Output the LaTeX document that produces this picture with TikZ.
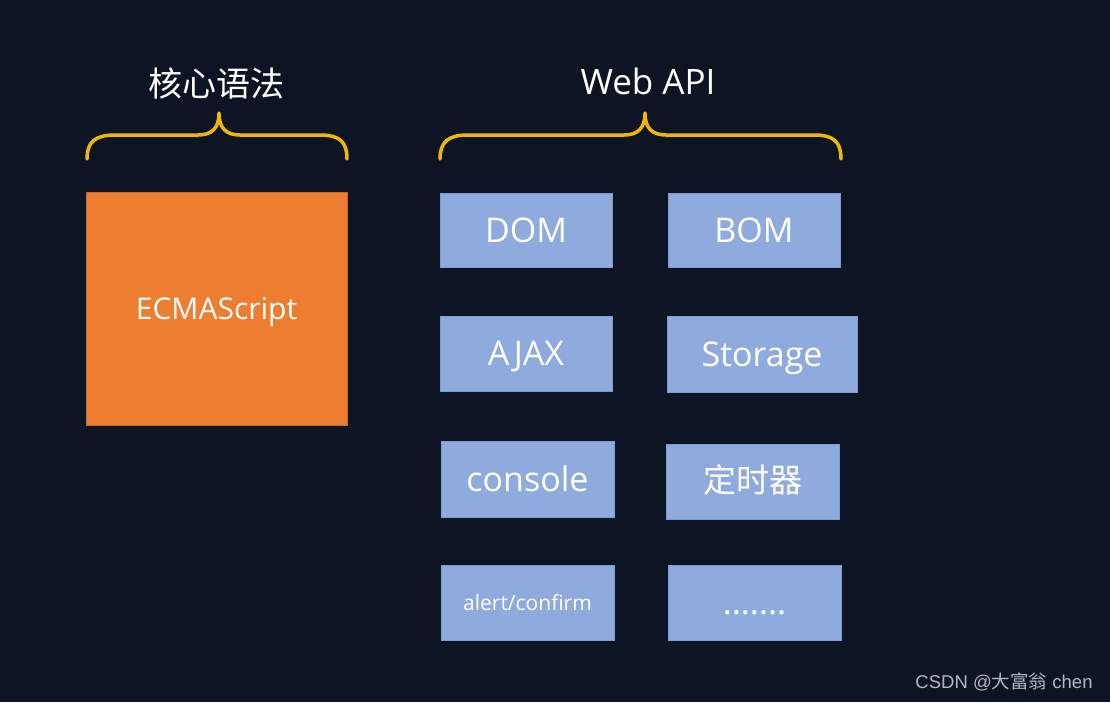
\documentclass[tikz,border=0pt]{standalone}
\usepackage{fontspec}
\setmainfont{Open Sans}
\newfontfamily\cjk{Noto Sans CJK SC}
\newfontfamily\wmfont{Liberation Sans}
\definecolor{bg}{HTML}{0D1525}
\definecolor{orangebox}{HTML}{ED7D31}
\definecolor{bluebox}{HTML}{8FAADC}
\definecolor{blueedge}{HTML}{7F9AD0}
\definecolor{gold}{HTML}{F2B705}
\definecolor{wm}{HTML}{B4B8BE}
\begin{document}
\begin{tikzpicture}[x=1pt,y=-1pt,
  apibox/.style={fill=bluebox,draw=blueedge,line width=0.8pt,inner sep=0pt,text=white,font=\fontsize{34}{36}\selectfont,text height=24.3pt,text depth=0pt},
  corebox/.style={fill=orangebox,draw=orangebox!85!black,line width=0.8pt,inner sep=0pt,text=white,font=\fontsize{30}{32}\selectfont,text height=21.4pt,text depth=0pt},
  bracepath/.style={draw=gold,line width=3.5pt,line cap=round,line join=round},
  title/.style={text=white,inner sep=0pt}]
\fill[bg] (0,0) rectangle (1110,702);
\useasboundingbox (0,0) rectangle (1110,702);
% titles
\node[title,font=\cjk\fontsize{34}{36}\selectfont] (tcore) at (216,84) {核心语法};
\node[title,font=\fontsize{35}{37}\selectfont] (tweb) at (648,81) {Web API};
% braces
\draw[bracepath] (87,159) .. controls (87,142) and (95,135) .. (115,135) -- (198,135)
  .. controls (212,135) and (219,128) .. (219,113)
  .. controls (219,128) and (226,135) .. (240,135) -- (320,135)
  .. controls (340,135) and (347,142) .. (347,159);
\draw[bracepath] (440,159) .. controls (440,142) and (448,135) .. (468,135) -- (624,135)
  .. controls (638,135) and (645,128) .. (645,113)
  .. controls (645,128) and (652,135) .. (666,135) -- (814,135)
  .. controls (834,135) and (841,142) .. (841,159);
% core box
\node[corebox,minimum width=261pt,minimum height=233pt] (ecma) at (216.5,308.5) {ECMAScript};
% api boxes
\node[apibox,minimum width=172pt,minimum height=74pt] (dom) at (526,230) {DOM};
\node[apibox,minimum width=172pt,minimum height=74pt] (bom) at (754,230) {BOM};
\node[apibox,minimum width=172pt,minimum height=75pt] (ajax) at (526,353.5) {AJAX};
\node[apibox,minimum width=190pt,minimum height=76pt] (storage) at (762,354) {Storage};
\node[apibox,minimum width=173pt,minimum height=76pt] (console) at (527.5,479) {console};
\node[apibox,minimum width=173pt,minimum height=75pt,font=\cjk\fontsize{33}{35}\selectfont,text height=26pt,text depth=4pt] (timer) at (752.5,481.5) {定时器};
\node[apibox,minimum width=173pt,minimum height=75pt,font=\fontsize{21}{23}\selectfont,text height=15pt] (alert) at (527.5,602.5) {alert/confirm};
\node[apibox,minimum width=173pt,minimum height=75pt] (more) at (754.5,602.5) {.......};
% watermark
\node[text=wm,inner sep=0pt,font=\wmfont\fontsize{18.5}{20}\selectfont] (mark) at (1004,682) {CSDN @{\cjk 大富翁} chen};
\end{tikzpicture}
\end{document}
